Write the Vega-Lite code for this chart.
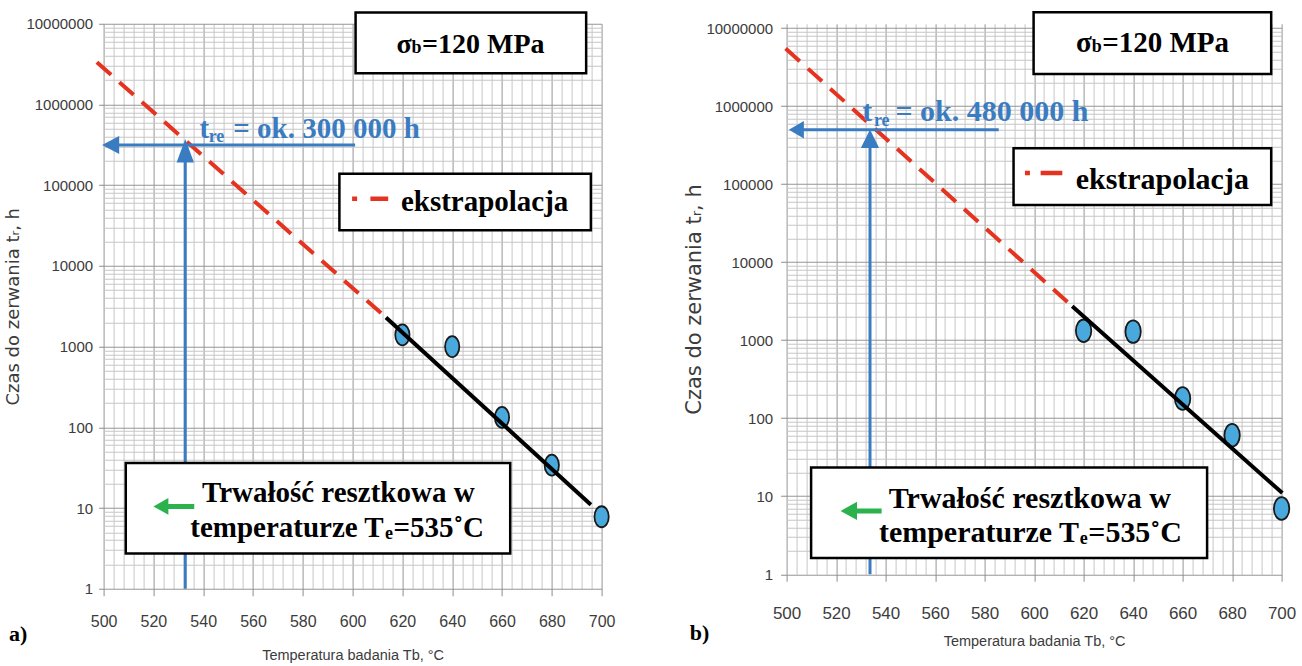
{
"$schema": "https://vega.github.io/schema/vega-lite/v6.json",
"background": "white",
"padding": {"left": 4.6, "top": 10.75, "right": 4, "bottom": 2},
"spacing": 185,
"bounds": "flush",
"config": {"view": {"stroke": null}},
"datasets": {
 "ext_a": [{"T": 497.3, "t": 3330000}, {"T": 613.4, "t": 2300}],
 "pts_a": [{"T": 620, "t": 1400}, {"T": 640, "t": 1000}, {"T": 660, "t": 133}, {"T": 680, "t": 34}, {"T": 700, "t": 7.8}],
 "fit_a": [{"T": 613.4, "t": 2300}, {"T": 695.7, "t": 11}],
 "harr_a": [{"T": 503, "T2": 601, "t": 315000}],
 "varr_a": [{"T": 532.8, "t": 1, "t2": 280000}],
 "lhead_a": [{"T": 499.4, "t": 315000}],
 "uhead_a": [{"T": 532.8, "t": 373000}],
 "box_a": [{"T": 601.2, "T2": 693.8, "t": 13740000, "t2": 2430000}, {"T": 594.7, "T2": 695.7, "t": 139000, "t2": 27700}, {"T": 508.9, "T2": 663.3, "t": 36.1, "t2": 2.74}],
 "leg_a": [{"T": 599.8, "T2": 614.3, "t": 68000}],
 "gsh_a": [{"T": 522.8, "T2": 536.4, "t": 10.47}],
 "ghd_a": [{"T": 520.0, "t": 10.47}],
 "txt_a": [
  {"role": "body", "label": "ekstrapolacja", "T": 619.4, "t": 47300},
  {"role": "body", "label": "Trwałość resztkowa w", "T": 539.5, "t": 11.73},
  {"role": "body", "label": "temperaturze T", "T": 534.8, "t": 4.32},
  {"role": "body", "label": "=535˚C", "T": 616.4, "t": 4.32},
  {"role": "sigma", "label": "σ", "T": 617.6, "t": 4350000},
  {"role": "sigma", "label": "=120 MPa", "T": 627.9, "t": 4350000},
  {"role": "sub", "label": "b", "T": 623.7, "t": 4300000},
  {"role": "sub", "label": "e", "T": 613.0, "t": 4.11},
  {"role": "blue", "label": "t", "T": 538.5, "t": 388000},
  {"role": "blue", "label": "= ok. 300 000 h", "T": 552.1, "t": 388000},
  {"role": "bluesub", "label": "re", "T": 542.2, "t": 346000},
  {"role": "panel", "label": "a)", "T": 465.7, "t": 0.273}
 ],
 "ext_b": [{"T": 499.6, "t": 5490000}, {"T": 615.4, "t": 2730}],
 "pts_b": [{"T": 620, "t": 1320}, {"T": 640, "t": 1290}, {"T": 660, "t": 179}, {"T": 680, "t": 60.5}, {"T": 700, "t": 6.96}],
 "fit_b": [{"T": 615.4, "t": 2730}, {"T": 700.3, "t": 11}],
 "harr_b": [{"T": 504, "T2": 585.7, "t": 500000}],
 "varr_b": [{"T": 533.7, "t": 1, "t2": 366000}],
 "lhead_b": [{"T": 500.9, "t": 500000}],
 "uhead_b": [{"T": 533.7, "t": 502000}],
 "box_b": [{"T": 599.8, "T2": 695.8, "t": 16040000, "t2": 2600000}, {"T": 591.7, "T2": 695.8, "t": 289600, "t2": 54300}, {"T": 509.9, "T2": 669.9, "t": 23.3, "t2": 1.62}],
 "leg_b": [{"T": 596.3, "T2": 611.4, "t": 139300}],
 "gsh_b": [{"T": 525.5, "T2": 538.4, "t": 6.48}],
 "ghd_b": [{"T": 521.8, "t": 6.48}],
 "txt_b": [
  {"role": "body", "label": "ekstrapolacja", "T": 616.8, "t": 88100},
  {"role": "body", "label": "Trwałość resztkowa w", "T": 541.3, "t": 7.16},
  {"role": "body", "label": "temperaturze T", "T": 537.3, "t": 2.595},
  {"role": "body", "label": "=535˚C", "T": 621.9, "t": 2.595},
  {"role": "sigma", "label": "σ", "T": 616.9, "t": 4970000},
  {"role": "sigma", "label": "=120 MPa", "T": 627.5, "t": 4970000},
  {"role": "sub", "label": "b", "T": 623.3, "t": 4900000},
  {"role": "sub", "label": "e", "T": 618.4, "t": 2.46},
  {"role": "blue", "label": "t", "T": 530.6, "t": 642000},
  {"role": "blue", "label": "= ok. 480 000 h", "T": 544.0, "t": 642000},
  {"role": "bluesub", "label": "re", "T": 535.3, "t": 554000},
  {"role": "panel", "label": "b)", "T": 464.85, "t": 0.178}
 ]
},
"hconcat": [
 {
  "width": 498,
  "height": 565,
  "resolve": {"axis": {"x": "independent", "y": "independent"}},
  "encoding": {
   "x": {"field": "T", "type": "quantitative", "scale": {"domain": [500, 700], "nice": false, "zero": false}, "axis": null},
   "y": {"field": "t", "type": "quantitative", "scale": {"type": "log", "domain": [1, 10000000], "nice": false}, "axis": null}
  },
  "layer": [
   {
    "data": {"name": "ext_a"},
    "mark": {"type": "line", "color": "#e5331f", "strokeWidth": 4, "strokeDash": [19, 11], "strokeCap": "butt"},
    "encoding": {
     "x": {"field": "T", "type": "quantitative", "scale": {"domain": [500, 700], "nice": false, "zero": false},
      "axis": {"orient": "top", "values": [504,508,512,516,524,528,532,536,544,548,552,556,564,568,572,576,584,588,592,596,604,608,612,616,624,628,632,636,644,648,652,656,664,668,672,676,684,688,692,696], "grid": true, "gridColor": "#c6c6c6", "gridWidth": 1, "labels": false, "ticks": false, "domain": false, "title": null}},
     "y": {"field": "t", "type": "quantitative", "scale": {"type": "log", "domain": [1, 10000000], "nice": false},
      "axis": {"orient": "right", "values": [2,3,4,5,6,7,8,9,20,30,40,50,60,70,80,90,200,300,400,500,600,700,800,900,2000,3000,4000,5000,6000,7000,8000,9000,20000,30000,40000,50000,60000,70000,80000,90000,200000,300000,400000,500000,600000,700000,800000,900000,2000000,3000000,4000000,5000000,6000000,7000000,8000000,9000000], "grid": true, "gridColor": "#c6c6c6", "gridWidth": 1, "labels": false, "ticks": false, "domain": false, "title": null}}
    }
   },
   {
    "data": {"name": "pts_a"},
    "mark": {"type": "point", "shape": "M0,-1C0.376,-1,0.68,-0.552,0.68,0C0.68,0.552,0.376,1,0,1C-0.376,1,-0.68,0.552,-0.68,0C-0.68,-0.552,-0.376,-1,0,-1Z", "filled": true, "fill": "#4aa9dc", "stroke": "#1a1a1a", "strokeWidth": 1.8, "size": 441, "opacity": 1},
    "encoding": {
     "x": {"field": "T", "type": "quantitative", "scale": {"domain": [500, 700], "nice": false, "zero": false},
      "axis": {"orient": "bottom", "values": [500,520,540,560,580,600,620,640,660,680,700], "grid": true, "gridColor": "#959595", "gridWidth": 1, "domain": false, "tickSize": 7, "tickColor": "#8c8c8c", "labelFont": "Liberation Sans", "labelFontSize": 16, "labelColor": "#3c3c3c", "labelPadding": 18, "labelFlush": false, "labelOverlap": false, "title": "Temperatura badania Tb, °C", "titleFont": "Liberation Sans", "titleFontSize": 14.5, "titleFontWeight": "normal", "titleColor": "#3c3c3c", "titlePadding": 18.5}},
     "y": {"field": "t", "type": "quantitative", "scale": {"type": "log", "domain": [1, 10000000], "nice": false},
      "axis": {"orient": "left", "values": [1,10,100,1000,10000,100000,1000000,10000000], "format": "d", "grid": true, "gridColor": "#959595", "gridWidth": 1, "domain": false, "tickSize": 5, "tickColor": "#8c8c8c", "labelFont": "Liberation Sans", "labelFontSize": 15, "labelColor": "#3c3c3c", "labelPadding": 6, "labelFlush": false, "labelOverlap": false, "title": "Czas do zerwania tᵣ, h", "titleFont": "DejaVu Sans", "titleFontSize": 18, "titleFontWeight": "normal", "titleColor": "#3c3c3c", "titlePadding": 3}}
    }
   },
   {"data": {"name": "fit_a"}, "mark": {"type": "line", "color": "#000000", "strokeWidth": 4, "strokeCap": "butt"}},
   {"data": {"name": "harr_a"}, "mark": {"type": "rule", "color": "#3a7cc2", "strokeWidth": 3}, "encoding": {"x2": {"field": "T2"}}},
   {"data": {"name": "varr_a"}, "mark": {"type": "rule", "color": "#3a7cc2", "strokeWidth": 3}, "encoding": {"y2": {"field": "t2"}}},
   {"data": {"name": "lhead_a"}, "mark": {"type": "point", "shape": "M0,0L1.9,-1L1.9,1Z", "filled": true, "color": "#3a7cc2", "size": 324, "opacity": 1, "strokeWidth": 0}},
   {"data": {"name": "uhead_a"}, "mark": {"type": "point", "shape": "M0,0L-1,2.7L1,2.7Z", "filled": true, "color": "#3a7cc2", "size": 303, "opacity": 1, "strokeWidth": 0}},
   {"data": {"name": "txt_a"}, "transform": [{"filter": "datum.role === 'blue'"}], "mark": {"type": "text", "align": "left", "baseline": "alphabetic", "font": "Liberation Serif", "fontWeight": "bold", "fontSize": 29, "color": "#3a7cc2"}, "encoding": {"text": {"field": "label"}}},
   {"data": {"name": "txt_a"}, "transform": [{"filter": "datum.role === 'bluesub'"}], "mark": {"type": "text", "align": "left", "baseline": "alphabetic", "font": "Liberation Serif", "fontWeight": "bold", "fontSize": 18, "color": "#3a7cc2"}, "encoding": {"text": {"field": "label"}}},
   {"data": {"name": "box_a"}, "mark": {"type": "rect", "fill": "#ffffff", "stroke": "#000000", "strokeWidth": 2.5}, "encoding": {"x2": {"field": "T2"}, "y2": {"field": "t2"}}},
   {"data": {"name": "leg_a"}, "mark": {"type": "rule", "color": "#e5331f", "strokeWidth": 4.5, "strokeDash": [5, 13.3, 18, 300], "strokeCap": "butt"}, "encoding": {"x2": {"field": "T2"}}},
   {"data": {"name": "gsh_a"}, "mark": {"type": "rule", "color": "#2bb24c", "strokeWidth": 5}, "encoding": {"x2": {"field": "T2"}}},
   {"data": {"name": "ghd_a"}, "mark": {"type": "point", "shape": "M0,0L1.8,-1L1.8,1Z", "filled": true, "color": "#2bb24c", "size": 276, "opacity": 1, "strokeWidth": 0}},
   {"data": {"name": "txt_a"}, "transform": [{"filter": "datum.role === 'body'"}], "mark": {"type": "text", "align": "left", "baseline": "alphabetic", "font": "Liberation Serif", "fontWeight": "bold", "fontSize": 29, "color": "#000000"}, "encoding": {"text": {"field": "label"}}},
   {"data": {"name": "txt_a"}, "transform": [{"filter": "datum.role === 'sigma'"}], "mark": {"type": "text", "align": "left", "baseline": "alphabetic", "font": "Liberation Serif", "fontWeight": "bold", "fontSize": 28, "color": "#000000"}, "encoding": {"text": {"field": "label"}}},
   {"data": {"name": "txt_a"}, "transform": [{"filter": "datum.role === 'sub'"}], "mark": {"type": "text", "align": "left", "baseline": "alphabetic", "font": "Liberation Serif", "fontWeight": "bold", "fontSize": 18, "color": "#000000"}, "encoding": {"text": {"field": "label"}}},
   {"data": {"name": "txt_a"}, "transform": [{"filter": "datum.role === 'panel'"}], "mark": {"type": "text", "align": "center", "baseline": "middle", "font": "Liberation Serif", "fontWeight": "bold", "fontSize": 22, "color": "#000000"}, "encoding": {"text": {"field": "label"}}}
  ]
 },
 {
  "width": 495,
  "height": 550.5,
  "resolve": {"axis": {"x": "independent", "y": "independent"}},
  "encoding": {
   "x": {"field": "T", "type": "quantitative", "scale": {"domain": [500, 700], "nice": false, "zero": false}, "axis": null},
   "y": {"field": "t", "type": "quantitative", "scale": {"type": "log", "domain": [1, 11420000], "nice": false}, "axis": null}
  },
  "layer": [
   {
    "data": {"name": "ext_b"},
    "mark": {"type": "line", "color": "#e5331f", "strokeWidth": 4, "strokeDash": [19, 11], "strokeCap": "butt"},
    "encoding": {
     "x": {"field": "T", "type": "quantitative", "scale": {"domain": [500, 700], "nice": false, "zero": false},
      "axis": {"orient": "top", "values": [504,508,512,516,524,528,532,536,544,548,552,556,564,568,572,576,584,588,592,596,604,608,612,616,624,628,632,636,644,648,652,656,664,668,672,676,684,688,692,696], "grid": true, "gridColor": "#c6c6c6", "gridWidth": 1, "labels": false, "ticks": false, "domain": false, "title": null}},
     "y": {"field": "t", "type": "quantitative", "scale": {"type": "log", "domain": [1, 11420000], "nice": false},
      "axis": {"orient": "right", "values": [2,3,4,5,6,7,8,9,20,30,40,50,60,70,80,90,200,300,400,500,600,700,800,900,2000,3000,4000,5000,6000,7000,8000,9000,20000,30000,40000,50000,60000,70000,80000,90000,200000,300000,400000,500000,600000,700000,800000,900000,2000000,3000000,4000000,5000000,6000000,7000000,8000000,9000000], "grid": true, "gridColor": "#c6c6c6", "gridWidth": 1, "labels": false, "ticks": false, "domain": false, "title": null}}
    }
   },
   {
    "data": {"name": "pts_b"},
    "mark": {"type": "point", "shape": "M0,-1C0.376,-1,0.68,-0.552,0.68,0C0.68,0.552,0.376,1,0,1C-0.376,1,-0.68,0.552,-0.68,0C-0.68,-0.552,-0.376,-1,0,-1Z", "filled": true, "fill": "#4aa9dc", "stroke": "#1a1a1a", "strokeWidth": 1.8, "size": 515, "opacity": 1},
    "encoding": {
     "x": {"field": "T", "type": "quantitative", "scale": {"domain": [500, 700], "nice": false, "zero": false},
      "axis": {"orient": "bottom", "values": [500,520,540,560,580,600,620,640,660,680,700], "grid": true, "gridColor": "#959595", "gridWidth": 1, "domain": false, "tickSize": 7, "tickColor": "#8c8c8c", "labelFont": "Liberation Sans", "labelFontSize": 17, "labelColor": "#3c3c3c", "labelPadding": 24, "labelFlush": false, "labelOverlap": false, "title": "Temperatura badania Tb, °C", "titleFont": "Liberation Sans", "titleFontSize": 14.5, "titleFontWeight": "normal", "titleColor": "#3c3c3c", "titlePadding": 12.8}},
     "y": {"field": "t", "type": "quantitative", "scale": {"type": "log", "domain": [1, 11420000], "nice": false},
      "axis": {"orient": "left", "values": [1,10,100,1000,10000,100000,1000000,10000000], "format": "d", "grid": true, "gridColor": "#959595", "gridWidth": 1, "domain": false, "tickSize": 6, "tickColor": "#8c8c8c", "labelFont": "Liberation Sans", "labelFontSize": 15, "labelColor": "#3c3c3c", "labelPadding": 8, "labelFlush": false, "labelOverlap": false, "title": "Czas do zerwania tᵣ, h", "titleFont": "DejaVu Sans", "titleFontSize": 21, "titleFontWeight": "normal", "titleColor": "#3c3c3c", "titlePadding": 1}}
    }
   },
   {"data": {"name": "fit_b"}, "mark": {"type": "line", "color": "#000000", "strokeWidth": 4, "strokeCap": "butt"}},
   {"data": {"name": "harr_b"}, "mark": {"type": "rule", "color": "#3a7cc2", "strokeWidth": 3}, "encoding": {"x2": {"field": "T2"}}},
   {"data": {"name": "varr_b"}, "mark": {"type": "rule", "color": "#3a7cc2", "strokeWidth": 3}, "encoding": {"y2": {"field": "t2"}}},
   {"data": {"name": "lhead_b"}, "mark": {"type": "point", "shape": "M0,0L1.7,-1L1.7,1Z", "filled": true, "color": "#3a7cc2", "size": 313, "opacity": 1, "strokeWidth": 0}},
   {"data": {"name": "uhead_b"}, "mark": {"type": "point", "shape": "M0,0L-1,2L1,2Z", "filled": true, "color": "#3a7cc2", "size": 335, "opacity": 1, "strokeWidth": 0}},
   {"data": {"name": "txt_b"}, "transform": [{"filter": "datum.role === 'blue'"}], "mark": {"type": "text", "align": "left", "baseline": "alphabetic", "font": "Liberation Serif", "fontWeight": "bold", "fontSize": 30, "color": "#3a7cc2"}, "encoding": {"text": {"field": "label"}}},
   {"data": {"name": "txt_b"}, "transform": [{"filter": "datum.role === 'bluesub'"}], "mark": {"type": "text", "align": "left", "baseline": "alphabetic", "font": "Liberation Serif", "fontWeight": "bold", "fontSize": 18, "color": "#3a7cc2"}, "encoding": {"text": {"field": "label"}}},
   {"data": {"name": "box_b"}, "mark": {"type": "rect", "fill": "#ffffff", "stroke": "#000000", "strokeWidth": 2.5}, "encoding": {"x2": {"field": "T2"}, "y2": {"field": "t2"}}},
   {"data": {"name": "leg_b"}, "mark": {"type": "rule", "color": "#e5331f", "strokeWidth": 4.5, "strokeDash": [5, 10.7, 21.7, 300], "strokeCap": "butt"}, "encoding": {"x2": {"field": "T2"}}},
   {"data": {"name": "gsh_b"}, "mark": {"type": "rule", "color": "#2bb24c", "strokeWidth": 5}, "encoding": {"x2": {"field": "T2"}}},
   {"data": {"name": "ghd_b"}, "mark": {"type": "point", "shape": "M0,0L1.8,-1L1.8,1Z", "filled": true, "color": "#2bb24c", "size": 335, "opacity": 1, "strokeWidth": 0}},
   {"data": {"name": "txt_b"}, "transform": [{"filter": "datum.role === 'body'"}], "mark": {"type": "text", "align": "left", "baseline": "alphabetic", "font": "Liberation Serif", "fontWeight": "bold", "fontSize": 30, "color": "#000000"}, "encoding": {"text": {"field": "label"}}},
   {"data": {"name": "txt_b"}, "transform": [{"filter": "datum.role === 'sigma'"}], "mark": {"type": "text", "align": "left", "baseline": "alphabetic", "font": "Liberation Serif", "fontWeight": "bold", "fontSize": 29, "color": "#000000"}, "encoding": {"text": {"field": "label"}}},
   {"data": {"name": "txt_b"}, "transform": [{"filter": "datum.role === 'sub'"}], "mark": {"type": "text", "align": "left", "baseline": "alphabetic", "font": "Liberation Serif", "fontWeight": "bold", "fontSize": 18, "color": "#000000"}, "encoding": {"text": {"field": "label"}}},
   {"data": {"name": "txt_b"}, "transform": [{"filter": "datum.role === 'panel'"}], "mark": {"type": "text", "align": "center", "baseline": "middle", "font": "Liberation Serif", "fontWeight": "bold", "fontSize": 22, "color": "#000000"}, "encoding": {"text": {"field": "label"}}}
  ]
 }
]
}
